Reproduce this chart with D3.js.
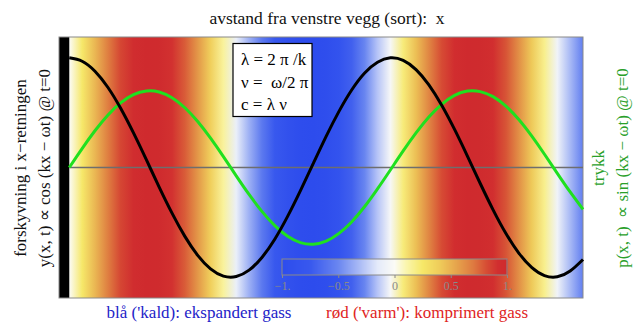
<!DOCTYPE html>
<html><head><meta charset="utf-8">
<script src="https://cdn.jsdelivr.net/npm/d3@7"></script>
<style>
html,body{margin:0;padding:0;background:#fff;}
text{font-family:"Liberation Serif","Times New Roman",serif;white-space:pre;}
</style></head>
<body>
<svg id="chart" width="633" height="323"></svg>
<script>
// ---------- data ----------
const xs = [0,0.25,0.5,0.75,1,1.25,1.5,1.75,2,2.25,2.5,2.75,3,3.25,3.5,3.75,4,4.25,4.5,4.75,5,5.25,5.5,5.75,6,6.25,6.5,6.75,7,7.25,7.5,7.75,8,8.25,8.5,8.75,9,9.25,9.5,9.75,10];
// black: displacement y(x,0)
const displacement = [1.0,0.969,0.878,0.732,0.54,0.315,0.071,-0.178,-0.416,-0.628,-0.801,-0.924,-0.99,-0.994,-0.936,-0.82,-0.654,-0.446,-0.211,0.037,0.284,0.512,0.709,0.862,0.96,1.0,0.977,0.893,0.754,0.568,0.347,0.104,-0.146,-0.386,-0.602,-0.78,-0.911,-0.986,-0.997,-0.944,-0.839];
// green: pressure p(x,0)
const pressure = [0,0.173,0.335,0.477,0.589,0.664,0.698,0.689,0.636,0.545,0.419,0.267,0.099,-0.076,-0.246,-0.4,-0.53,-0.627,-0.685,-0.699,-0.671,-0.601,-0.494,-0.356,-0.195,-0.023,0.151,0.315,0.46,0.576,0.657,0.697,0.692,0.646,0.559,0.438,0.288,0.121,-0.053,-0.223,-0.381];
// background colour field (normalised pressure)
const heat = [0,0.247,0.479,0.682,0.841,0.949,0.997,0.984,0.909,0.778,0.598,0.382,0.141,-0.108,-0.351,-0.572,-0.757,-0.895,-0.978,-0.999,-0.959,-0.859,-0.706,-0.508,-0.279,-0.033,0.215,0.45,0.657,0.823,0.938,0.995,0.989,0.923,0.798,0.626,0.412,0.173,-0.075,-0.319,-0.544];
const colorbarTicks = [-1,-0.5,0,0.5,1];
const colorbarTickLabels = ["\u22121.","\u22120.5","0","0.5","1."];
const legendLines = ["\u03bb = 2 \u03c0 /k","\u03bd =  \u03c9/2 \u03c0","c = \u03bb \u03bd"];
const titleText = "avstand fra venstre vegg (sort):  x";
const leftLabels = ["forskyvning i x\u2212retningen","y(x, t) \u221d cos (kx \u2212 \u03c9t) @ t=0"];
const rightLabels = ["trykk","p(x, t)  \u221d sin (kx \u2212 \u03c9t) @ t=0"];
const bottomLabels = ["bl\u00e5 ('kald): ekspandert gass","r\u00f8d ('varm'): komprimert gass"];
// colour map stops (TemperatureMap-like)
const cmapValues = [-1,-0.75,-0.5,-0.3,-0.15,0,0.1,0.25,0.4,0.55,0.7,0.82,0.92,1];
const cmapColors = ["#2d4ced","#3858ee","#6a86f0","#aebef6","#e4eafa","#fbfbf6","#faf6b0","#f6e868","#efcc5a","#e6a44c","#de7a40","#d64c34","#d12e2f","#cf2a2e"];

// ---------- layout ----------
const svg = d3.select("#chart");
const plot = {left:59, right:583, top:37, bottom:298};
const x = d3.scaleLinear().domain([-0.2, 10]).range([plot.left, plot.right]);
const y = d3.scaleLinear().domain([-1.19, 1.19]).range([plot.bottom, plot.top]);
const color = d3.scaleLinear().domain(cmapValues).range(cmapColors).interpolate(d3.interpolateRgb).clamp(true);

const defs = svg.append("defs");
const bg = defs.append("linearGradient").attr("id","bgGrad")
  .attr("gradientUnits","userSpaceOnUse")
  .attr("x1", x(xs[0])).attr("x2", x(xs[xs.length-1])).attr("y1",0).attr("y2",0);
bg.selectAll("stop").data(xs).join("stop")
  .attr("offset",(d)=> (x(d)-x(xs[0]))/(x(xs[xs.length-1])-x(xs[0])))
  .attr("stop-color",(d,i)=>color(heat[i]));

// background field
svg.append("rect").attr("x",x(0)).attr("y",plot.top)
  .attr("width",x(10)-x(0)).attr("height",plot.bottom-plot.top)
  .attr("fill","url(#bgGrad)");
// wall
svg.append("rect").attr("x",x(-0.2)).attr("y",plot.top)
  .attr("width",x(0)-x(-0.2)).attr("height",plot.bottom-plot.top).attr("fill","#000");
// frame
svg.append("rect").attr("x",plot.left).attr("y",plot.top)
  .attr("width",plot.right-plot.left).attr("height",plot.bottom-plot.top)
  .attr("fill","none").attr("stroke","#8a8a8a").attr("stroke-width",1);

// zero axis
svg.append("line").attr("x1",x(0)).attr("x2",x(10)).attr("y1",y(0)).attr("y2",y(0))
  .attr("stroke","#6e6e6e").attr("stroke-width",1.4);

// curves
const pts = xs.map((d,i)=>({x:d, yd:displacement[i], p:pressure[i]}));
svg.append("path").datum(pts)
  .attr("d", d3.line().x(d=>x(d.x)).y(d=>y(d.p)).curve(d3.curveNatural))
  .attr("fill","none").attr("stroke","#1fe01f").attr("stroke-width",3);
svg.append("path").datum(pts)
  .attr("d", d3.line().x(d=>x(d.x)).y(d=>y(d.yd)).curve(d3.curveNatural))
  .attr("fill","none").attr("stroke","#000").attr("stroke-width",3);

// legend box
const lg = svg.append("g");
lg.append("rect").attr("x",233).attr("y",43.5).attr("width",79).attr("height",73)
  .attr("fill","#fff").attr("stroke","#000").attr("stroke-width",1.2);
lg.selectAll("text").data(legendLines).join("text")
  .attr("x",241).attr("y",(d,i)=>65+i*22.5)
  .attr("font-size",17).attr("fill","#000").text(d=>d);

// title
svg.append("text").attr("x",327).attr("y",24).attr("text-anchor","middle")
  .attr("font-size",17.5).attr("fill","#111").text(titleText);

// left labels
svg.selectAll(".ll").data(leftLabels).join("text").attr("class","ll")
  .attr("transform",(d,i)=>`translate(${[26,50][i]},${168}) rotate(-90)`)
  .attr("text-anchor","middle").attr("font-size",17).attr("fill","#111").text(d=>d);
// right labels
svg.selectAll(".rl").data(rightLabels).join("text").attr("class","rl")
  .attr("transform",(d,i)=>`translate(${[604,628][i]},${168}) rotate(-90)`)
  .attr("text-anchor","middle").attr("font-size",17).attr("fill","#2aa02a").text(d=>d);

// bottom labels
svg.selectAll(".bl").data(bottomLabels).join("text").attr("class","bl")
  .attr("x",(d,i)=>[199,427][i]).attr("y",318).attr("text-anchor","middle")
  .attr("font-size",17).attr("fill",(d,i)=>["#2323c8","#e02424"][i]).text(d=>d);

// colorbar (drawn last, as opaque slices through the colour scale)
const cb = {x0:282, x1:507, y:259, h:16};
const cbx = d3.scaleLinear().domain([-1,1]).range([cb.x0, cb.x1]);
const cbVals = d3.range(cb.x0, cb.x1).map(px => cbx.invert(px + 0.5));
const cbLayer = svg.append("g").attr("class","colorbar").style("opacity",1);
cbLayer.selectAll("rect.slice").data(cbVals).join("rect").attr("class","slice")
  .attr("x", d => cbx(d) - 0.5).attr("y", cb.y).attr("width", 1.5).attr("height", cb.h)
  .style("fill", d => color(d)).style("fill-opacity", 1).style("stroke","none");
cbLayer.append("rect").attr("x",cb.x0).attr("y",cb.y).attr("width",cb.x1-cb.x0).attr("height",cb.h)
  .style("fill","none").style("stroke","#8a8a8a").style("stroke-width",1);
const cax = cbLayer.append("g").attr("transform",`translate(0,${cb.y+cb.h})`)
  .call(d3.axisBottom(cbx).tickValues(colorbarTicks).tickSize(3).tickPadding(3)
    .tickFormat((d,i)=>colorbarTickLabels[i]));
cax.select(".domain").remove();
cax.selectAll("line").attr("stroke","#8a8a8a");
cax.selectAll("text").attr("fill","#8a8a8a").attr("font-size",12)
  .attr("font-family",'"Liberation Serif","Times New Roman",serif');
</script>
</body></html>
